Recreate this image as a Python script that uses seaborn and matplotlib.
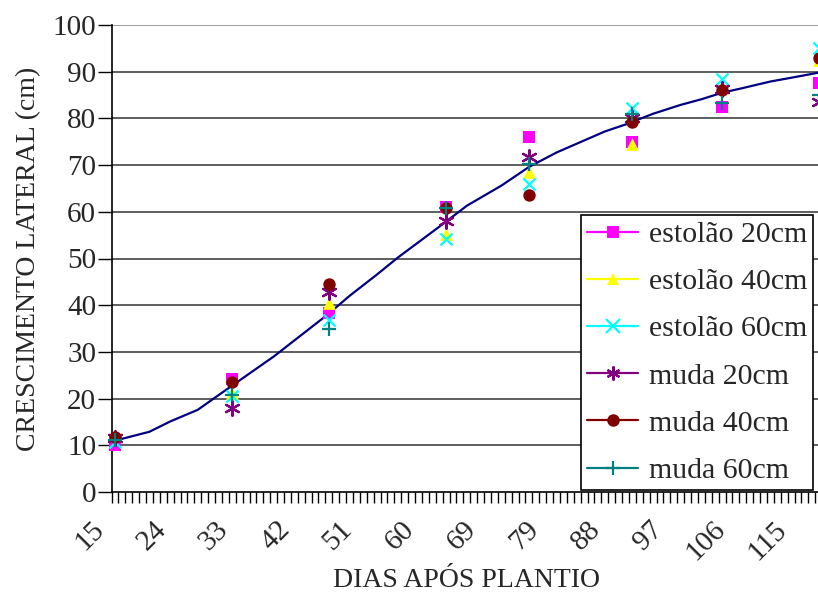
import numpy as np
import matplotlib
matplotlib.use("Agg")
import matplotlib.pyplot as plt
from matplotlib.lines import Line2D
from matplotlib.transforms import ScaledTranslation
import seaborn as sns
import pandas as pd

# ---------------------------------------------------
# Data
# ---------------------------------------------------
# category axis: one slot per day, day 70 is not on the axis
categories = list(range(15, 70)) + list(range(71, 119))
tick_days = [15, 24, 33, 42, 51, 60, 69, 79, 88, 97, 106, 115]

sample_days = [15, 32, 46, 63, 76, 91, 104, 118]
estolao_20 = [10.0, 24.3, 38.3, 61.0, 76.0, 75.0, 82.5, 87.5]
estolao_40 = [12.3, 21.2, 40.5, 55.3, 68.6, 74.6, 87.0, 92.5]
estolao_60 = [10.8, 20.5, 36.8, 54.2, 66.0, 82.3, 88.5, 95.0]
muda_20 = [11.5, 18.0, 42.8, 58.0, 71.8, 80.0, 86.3, 83.5]
muda_40 = [11.8, 23.6, 44.6, 60.8, 63.7, 79.2, 86.0, 93.0]
muda_60 = [11.2, 20.8, 34.8, 60.8, 70.3, 81.0, 83.2, 85.0]

curve_days = [15, 20, 23, 27, 32, 35, 38, 42, 46, 49, 53, 56, 59, 62, 66,
              72, 76, 80, 87, 90, 94, 98, 101, 104, 107, 111, 114, 118]
curve_values = [11.0, 12.9, 15.1, 17.6, 22.8, 25.9, 29.0, 33.6, 38.2, 42.0,
                46.6, 50.2, 53.5, 56.8, 61.3, 65.6, 69.6, 72.7, 77.2, 78.7,
                81.0, 82.9, 84.1, 85.5, 86.5, 87.9, 88.7, 89.8]

series = [
    ("estolão 20cm", estolao_20, "#FF00FF", "s", 75),
    ("estolão 40cm", estolao_40, "#FFFF00", "^", 85),
    ("estolão 60cm", estolao_60, "#00FFFF", "x", 75),
    ("muda 20cm", muda_20, "#800080", (6, 2, 0), 110),
    ("muda 40cm", muda_40, "#800000", "o", 80),
    ("muda 60cm", muda_60, "#008080", "+", 110),
]


def pos(day):
    return categories.index(day)


# ---------------------------------------------------
# Figure
# ---------------------------------------------------
sns.set_theme(style="white")
plt.rcParams["font.family"] = ["Liberation Serif", "DejaVu Serif"]

fig = plt.figure(figsize=(8.18, 5.97), dpi=100)
ax = fig.add_axes([111.5 / 818, 1 - 492 / 597, 710.7 / 818, 467 / 597])

for y in range(10, 101, 10):
    ax.axhline(y, color="#333333" if y < 100 else "#808080", lw=1.1, zorder=0)

curve = pd.DataFrame({"x": [pos(d) for d in curve_days], "y": curve_values})
sns.lineplot(data=curve, x="x", y="y", color="#000080", lw=1.6, ax=ax, zorder=2)

handles = []
for name, vals, col, mk, size in series:
    df = pd.DataFrame({"x": [pos(d) for d in sample_days], "y": vals})
    filled = mk not in ("x", "+") and not isinstance(mk, tuple)
    sns.scatterplot(data=df, x="x", y="y", color=col, marker=mk, s=size,
                    linewidth=0 if filled else 1.6, ax=ax, zorder=3,
                    clip_on=False)
    handles.append(Line2D([], [], color=col, lw=1.6, marker=mk,
                          markersize=9 if filled else 10,
                          markeredgewidth=0 if filled else 1.6, label=name))

ax.set_xlim(-0.5, len(categories) - 0.5)
ax.set_ylim(0, 100)
ax.set_yticks(range(0, 101, 10))
ax.set_xticks([pos(d) for d in tick_days])
ax.set_xticklabels([str(d) for d in tick_days], rotation=45, ha="right",
                   va="center", rotation_mode="anchor")
ax.set_xticks(np.arange(-0.5, len(categories), 1.0), minor=True)
ax.tick_params(axis="x", which="major", length=0, pad=24, labelsize=21)
ax.tick_params(axis="x", which="minor", length=8, width=1, color="black",
               direction="out", bottom=True)
ax.tick_params(axis="y", length=10, width=1, color="black", direction="out",
               left=True, labelsize=21, pad=1)
for lab in ax.get_xticklabels():
    lab.set_transform(lab.get_transform() +
                      ScaledTranslation(-0.15, 0, fig.dpi_scale_trans))

for side in ["top", "right"]:
    ax.spines[side].set_visible(False)
for side in ["left", "bottom"]:
    ax.spines[side].set_color("black")
    ax.spines[side].set_linewidth(1.2)

ax.set_xlabel("DIAS APÓS PLANTIO", fontsize=20, labelpad=2)
ax.set_ylabel("CRESCIMENTO LATERAL (cm)", fontsize=20, labelpad=8)

leg = ax.legend(handles=handles, loc="lower right",
                bbox_to_anchor=(813 / 818, 1 - 490 / 597),
                bbox_transform=fig.transFigure, fontsize=21.5,
                frameon=True, fancybox=False, framealpha=1,
                edgecolor="black", borderaxespad=0, handlelength=1.7,
                handletextpad=0.35, labelspacing=0.68, borderpad=0.2)
leg.get_frame().set_linewidth(1.2)
leg.set_zorder(5)

fig.savefig("out.png", dpi=100)
